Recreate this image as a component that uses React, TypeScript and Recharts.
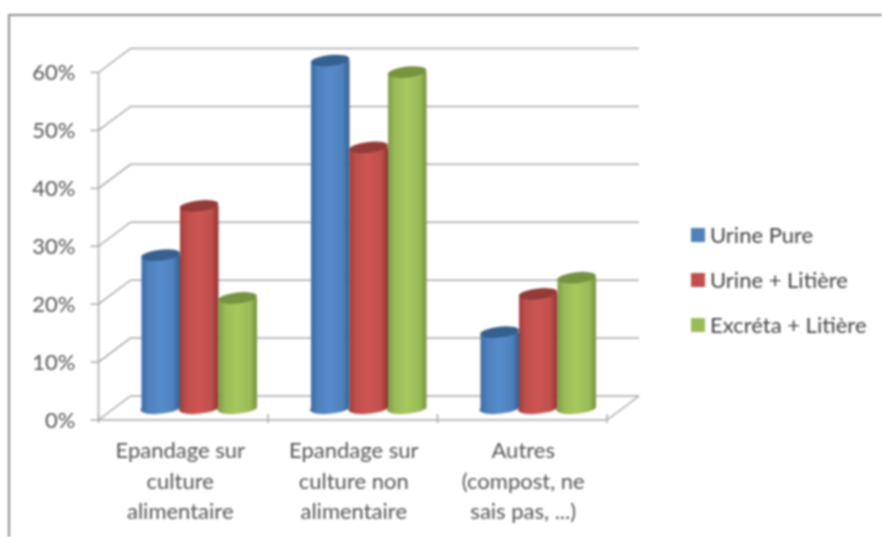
import React from "react";
import { BarChart, Bar, XAxis, YAxis, CartesianGrid, Legend } from "recharts";

const categoryLines = [
  ["Epandage sur", "culture", "alimentaire"],
  ["Epandage sur", "culture non", "alimentaire"],
  ["Autres", "(compost, ne", "sais pas, ...)"],
];
const urinePure = [26.4, 60, 13.1];
const urineLitiere = [34.9, 45, 19.7];
const excretaLitiere = [19, 58, 22.5];
const yTicks = [0, 10, 20, 30, 40, 50, 60];
const seriesOrder = ["Urine Pure", "Urine + Litière", "Excréta + Litière"];

const data = categoryLines.map((lines, i) => ({
  category: lines.join(" "),
  urinePure: urinePure[i],
  urineLitiere: urineLitiere[i],
  excretaLitiere: excretaLitiere[i],
}));

const DEPTH_X = 32;
const DEPTH_Y = 24;
const GRID = "#a9a9a9";
const TEXT = "#555555";
const FONT = "Lato";
const labelShift = [-3, 1, 1];

const ramps: any = {
  urinePure: ["#3a679e", "#568bcc", "#4f81bd", "#34608f", "#35608f"],
  urineLitiere: ["#9c3b38", "#cd5552", "#c0504d", "#8f3331", "#943b38"],
  excretaLitiere: ["#7a9745", "#a6c85c", "#9bbb59", "#76923c", "#76933f"],
};

// 3D look: the bar rect from the scale is pushed halfway into the depth
const Cylinder = (props: any) => {
  const { x, y, width, height, dataKey } = props;
  const px = x + DEPTH_X / 2;
  const top = y - DEPTH_Y / 2;
  const bottom = top + height;
  const rx = width / 2;
  const ry = 5.5;
  return (
    <g>
      <path
        d={`M${px},${top} L${px},${bottom} A${rx},${ry} -6 0 0 ${px + width},${bottom} L${px + width},${top} Z`}
        fill={`url(#grad-${dataKey})`}
      />
      <ellipse
        cx={px + rx}
        cy={top}
        rx={rx}
        ry={ry}
        fill={ramps[dataKey][4]}
        transform={`rotate(-6 ${px + rx} ${top})`}
      />
    </g>
  );
};

// gridline on the back wall plus the diagonal coming from the axis
const WallLine = (props: any) => {
  const { x1, y1, x2 } = props;
  const by = y1 - DEPTH_Y;
  return (
    <g stroke={GRID} strokeWidth={1.5} fill="none">
      <path d={`M${x1},${y1} L${x1 + DEPTH_X},${by} L${x2 + DEPTH_X},${by}`} />
      {y1 > 400 ? <path d={`M${x2},${y1} L${x2 + DEPTH_X},${by}`} /> : null}
    </g>
  );
};

const CategoryTick = (props: any) => {
  const { x, y, payload, visibleTicksCount, width } = props;
  const band = width / visibleTicksCount;
  const isLast = payload.index === visibleTicksCount - 1;
  return (
    <g>
      <line x1={x - band / 2} x2={x - band / 2} y1={y - 14} y2={y - 5} stroke={GRID} strokeWidth={1.5} />
      {isLast ? <line x1={x + band / 2} x2={x + band / 2} y1={y - 14} y2={y - 5} stroke={GRID} strokeWidth={1.5} /> : null}
      <text textAnchor="middle" fontFamily={FONT} fontSize={22} fill={TEXT}>
        {categoryLines[payload.index].map((line, i) => (
          <tspan key={line} x={x + labelShift[payload.index]} y={y + 30 + i * 30.5}>
            {line}
          </tspan>
        ))}
      </text>
    </g>
  );
};

const SeriesLegend = ({ payload }: any) => {
  const items = [...payload].sort(
    (a: any, b: any) => seriesOrder.indexOf(a.value) - seriesOrder.indexOf(b.value),
  );
  return (
    <div style={{ fontFamily: FONT, fontSize: 22, color: "#444444", whiteSpace: "nowrap" }}>
      {items.map((item: any) => (
        <div key={item.value} style={{ display: "flex", alignItems: "center", height: 45 }}>
          <span style={{ width: 14, height: 14, marginRight: 5, background: item.color }} />
          {item.value}
        </div>
      ))}
    </div>
  );
};

export default function App() {
  return (
    <div
      style={{
        position: "absolute",
        left: 0,
        top: 0,
        width: 882,
        height: 537,
        overflow: "hidden",
        background: "#fff",
        filter: "blur(0.8px)",
      }}
    >
      <div
        style={{
          position: "absolute",
          left: 8,
          top: 14,
          width: 900,
          height: 600,
          borderTop: "2px solid #8c8c8c",
          borderLeft: "2px solid #8c8c8c",
        }}
      />
      <BarChart
        width={882}
        height={537}
        data={data}
        barSize={38.5}
        barGap={0}
        margin={{ top: 72.5, right: 84, bottom: 57, left: 38.5 }}
      >
        <defs>
          {Object.keys(ramps).map((key) => (
            <linearGradient key={key} id={`grad-${key}`} x1="0" x2="1" y1="0" y2="0">
              <stop offset="0" stopColor={ramps[key][0]} />
              <stop offset="0.2" stopColor={ramps[key][2]} />
              <stop offset="0.5" stopColor={ramps[key][1]} />
              <stop offset="0.82" stopColor={ramps[key][2]} />
              <stop offset="1" stopColor={ramps[key][3]} />
            </linearGradient>
          ))}
        </defs>
        <CartesianGrid vertical={false} horizontal={(p: any) => <WallLine key={p.y1} {...p} />} />
        <XAxis
          dataKey="category"
          height={60}
          interval={0}
          axisLine={{ stroke: GRID, strokeWidth: 1.5 }}
          tickLine={false}
          tick={<CategoryTick />}
        />
        <YAxis
          width={60}
          domain={[0, 60]}
          ticks={yTicks}
          tickFormatter={(v: number) => `${v}%`}
          axisLine={{ stroke: GRID, strokeWidth: 1.5 }}
          tickLine={{ stroke: GRID, strokeWidth: 1.5 }}
          tickSize={8}
          tickMargin={15}
          tick={{ fontFamily: FONT, fontSize: 22, fill: TEXT }}
        />
        <Legend
          layout="vertical"
          align="right"
          verticalAlign="middle"
          width={191}
          wrapperStyle={{ left: 691, top: 212 }}
          content={<SeriesLegend />}
        />
        <Bar dataKey="urinePure" name="Urine Pure" fill="#4f81bd" shape={<Cylinder />} isAnimationActive={false} />
        <Bar dataKey="urineLitiere" name="Urine + Litière" fill="#c0504d" shape={<Cylinder />} isAnimationActive={false} />
        <Bar dataKey="excretaLitiere" name="Excréta + Litière" fill="#9bbb59" shape={<Cylinder />} isAnimationActive={false} />
      </BarChart>
    </div>
  );
}
